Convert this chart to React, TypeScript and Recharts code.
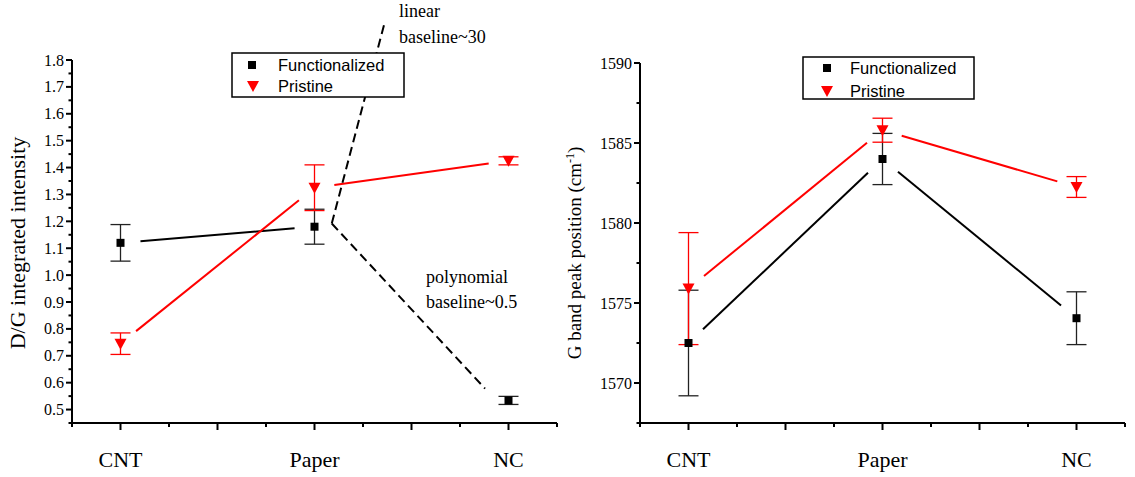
import React from 'react';
import { ComposedChart, Scatter, XAxis, YAxis, ErrorBar, ReferenceLine } from 'recharts';

// ---------- data ----------
const categories = ['CNT', 'Paper', 'NC'];
const categoryX = [1, 2, 3];

const dgFunctionalized = [1.12, 1.18, 0.534];
const dgFunctionalizedErr = [0.068, 0.065, 0.015];
const dgPristine = [0.745, 1.325, 1.425];
const dgPristineErr = [0.04, 0.085, 0.015];

const gFunctionalized = [1572.5, 1584.0, 1574.05];
const gFunctionalizedErr = [3.3, 1.6, 1.65];
const gPristine = [1575.9, 1585.8, 1582.25];
const gPristineErr = [3.5, 0.75, 0.65];

const xMajorTicks = [1, 1.5, 2, 2.5, 3];
const xMinorTicks = [0.75, 1.25, 1.75, 2.25, 2.75, 3.25];
const leftYMajorTicks = [0.5, 0.6, 0.7, 0.8, 0.9, 1.0, 1.1, 1.2, 1.3, 1.4, 1.5, 1.6, 1.7, 1.8];
const leftYMinorTicks = [0.45, 0.55, 0.65, 0.75, 0.85, 0.95, 1.05, 1.15, 1.25, 1.35, 1.45, 1.55, 1.65, 1.75];
const rightYMajorTicks = [1570, 1575, 1580, 1585, 1590];
const rightYMinorTicks = [1567.5, 1572.5, 1577.5, 1582.5, 1587.5];

// annotation (dashed baseline guides) in left-panel data coordinates
const annotationVertex = { x: 2.089, y: 1.192 };
const annotationLinearEnd = { x: 2.363, y: 1.943 };
const annotationPolyEnd = { x: 2.879, y: 0.578 };

// ---------- layout ----------
const X_DOMAIN: [number, number] = [0.75, 3.25];
const LEFT_Y_DOMAIN: [number, number] = [0.45, 1.8];
const RIGHT_Y_DOMAIN: [number, number] = [1567.5, 1590];
const PLOT_W = 485;
const LEFT_PLOT_H = 363;
const RIGHT_PLOT_H = 360;
const GAP = 20;

const SERIF = '"Liberation Serif", "Times New Roman", serif';
const SANS = '"Liberation Sans", Arial, sans-serif';

const toPoints = (ys: number[], errs: number[]) =>
  categoryX.map((x, i) => ({ x, y: ys[i], err: errs[i] }));

function gappedSegments(ys: number[], yDomain: [number, number], plotH: number) {
  const pxX = PLOT_W / (X_DOMAIN[1] - X_DOMAIN[0]);
  const pxY = plotH / (yDomain[1] - yDomain[0]);
  const segs: { x: number; y: number }[][] = [];
  for (let i = 0; i < categoryX.length - 1; i++) {
    const x1 = categoryX[i], x2 = categoryX[i + 1];
    const y1 = ys[i], y2 = ys[i + 1];
    const len = Math.hypot((x2 - x1) * pxX, (y2 - y1) * pxY);
    const t = GAP / len;
    segs.push([
      { x: x1 + t * (x2 - x1), y: y1 + t * (y2 - y1) },
      { x: x2 - t * (x2 - x1), y: y2 - t * (y2 - y1) },
    ]);
  }
  return segs;
}

const SquareShape = (props: any) => (
  <rect x={props.cx - 4} y={props.cy - 4} width={8} height={8} fill="#000" />
);
const TriangleShape = (props: any) => (
  <polygon
    points={`${props.cx - 6},${props.cy - 5} ${props.cx + 6},${props.cy - 5} ${props.cx},${props.cy + 6}`}
    fill="#ff0000"
  />
);

const XTick = (props: any) => {
  const { x, y, payload } = props;
  const v = payload.value;
  const major = xMajorTicks.some((t) => Math.abs(t - v) < 1e-6);
  const idx = categoryX.findIndex((c) => Math.abs(c - v) < 1e-6);
  return (
    <g>
      <line x1={x} x2={x} y1={y} y2={y + (major ? 7 : 4)} stroke="#000" strokeWidth={2} />
      {idx >= 0 && (
        <text
          x={x}
          y={y + 44}
          textAnchor="middle"
          fill="#000"
          style={{ fontFamily: SERIF, fontSize: 22 }}
        >
          {categories[idx]}
        </text>
      )}
    </g>
  );
};

const makeYTick = (majors: number[], fmt: (v: number) => string, fontSize: number) => (props: any) => {
  const { x, y, payload } = props;
  const v = payload.value;
  const major = majors.some((t) => Math.abs(t - v) < 1e-6);
  return (
    <g>
      <line x1={x} x2={x - (major ? 6 : 3.5)} y1={y} y2={y} stroke="#000" strokeWidth={2} />
      {major && (
        <text
          x={x - 8}
          y={y}
          dy="0.35em"
          textAnchor="end"
          fill="#000"
          style={{ fontFamily: SERIF, fontSize }}
        >
          {fmt(v)}
        </text>
      )}
    </g>
  );
};

const LeftYTick = makeYTick(leftYMajorTicks, (v) => v.toFixed(1), 16);
const RightYTick = makeYTick(rightYMajorTicks, (v) => String(v), 16);

const xTicks = [...xMinorTicks, ...xMajorTicks].sort((a, b) => a - b);
const leftYTicks = [...leftYMinorTicks, ...leftYMajorTicks].sort((a, b) => a - b);
const rightYTicks = [...rightYMinorTicks, ...rightYMajorTicks].sort((a, b) => a - b);

function Panel(props: {
  width: number;
  margin: any;
  yDomain: [number, number];
  yTicks: number[];
  YTick: any;
  func: number[];
  funcErr: number[];
  funcSegCount: number;
  prist: number[];
  pristErr: number[];
  plotH: number;
  children?: React.ReactNode;
}) {
  const funcSegs = gappedSegments(props.func, props.yDomain, props.plotH).slice(0, props.funcSegCount);
  const pristSegs = gappedSegments(props.prist, props.yDomain, props.plotH);
  const YT = props.YTick;
  return (
    <ComposedChart width={props.width} height={477} margin={props.margin}>
      <XAxis
        type="number"
        dataKey="x"
        domain={X_DOMAIN}
        ticks={xTicks}
        interval={0}
        height={30}
        tickSize={0}
        tickMargin={0}
        tickLine={false}
        tick={<XTick />}
        axisLine={{ stroke: '#000', strokeWidth: 2 }}
        allowDataOverflow
      />
      <YAxis
        type="number"
        dataKey="y"
        domain={props.yDomain}
        ticks={props.yTicks}
        interval={0}
        width={40}
        tickSize={0}
        tickMargin={0}
        tickLine={false}
        tick={<YT />}
        axisLine={{ stroke: '#000', strokeWidth: 2 }}
        allowDataOverflow
      />
      {funcSegs.map((s, i) => (
        <ReferenceLine key={'f' + i} segment={s} stroke="#000" strokeWidth={2} ifOverflow="visible" />
      ))}
      {pristSegs.map((s, i) => (
        <ReferenceLine key={'p' + i} segment={s} stroke="#ff0000" strokeWidth={2} ifOverflow="visible" />
      ))}
      {props.children}
      <Scatter
        data={toPoints(props.func, props.funcErr)}
        dataKey="y"
        shape={SquareShape}
        isAnimationActive={false}
      >
        <ErrorBar dataKey="err" direction="y" width={10} stroke="#222" strokeWidth={1.3} isAnimationActive={false} />
      </Scatter>
      <Scatter
        data={toPoints(props.prist, props.pristErr)}
        dataKey="y"
        shape={TriangleShape}
        isAnimationActive={false}
      >
        <ErrorBar dataKey="err" direction="y" width={10} stroke="#ff0000" strokeWidth={1.3} isAnimationActive={false} />
      </Scatter>
    </ComposedChart>
  );
}

export default function App() {
  return (
    <div style={{ position: 'absolute', left: 0, top: 0, width: 1135, height: 477, background: '#fff' }}>
      <div style={{ position: 'absolute', left: 0, top: 0 }}>
        <Panel
          width={600}
          margin={{ top: 60, right: 43, bottom: 24, left: 32 }}
          yDomain={LEFT_Y_DOMAIN}
          yTicks={leftYTicks}
          YTick={LeftYTick}
          func={dgFunctionalized}
          funcErr={dgFunctionalizedErr}
          funcSegCount={1}
          prist={dgPristine}
          pristErr={dgPristineErr}
          plotH={LEFT_PLOT_H}
        >
          <ReferenceLine
            segment={[annotationVertex, annotationLinearEnd]}
            stroke="#000"
            strokeWidth={2}
            strokeDasharray="9 5"
            ifOverflow="visible"
          />
          <ReferenceLine
            segment={[annotationVertex, annotationPolyEnd]}
            stroke="#000"
            strokeWidth={2}
            strokeDasharray="9 5"
            ifOverflow="visible"
          />
        </Panel>
      </div>
      <div style={{ position: 'absolute', left: 560, top: 0 }}>
        <Panel
          width={575}
          margin={{ top: 63, right: 10, bottom: 24, left: 40 }}
          yDomain={RIGHT_Y_DOMAIN}
          yTicks={rightYTicks}
          YTick={RightYTick}
          func={gFunctionalized}
          funcErr={gFunctionalizedErr}
          funcSegCount={2}
          prist={gPristine}
          pristErr={gPristineErr}
          plotH={RIGHT_PLOT_H}
        />
      </div>
      <svg
        width={1135}
        height={477}
        style={{ position: 'absolute', left: 0, top: 0, pointerEvents: 'none' }}
      >
        {/* axis titles */}
        <text
          transform="translate(25,243) rotate(-90)"
          textAnchor="middle"
          fill="#000"
          style={{ fontFamily: SERIF, fontSize: 22 }}
        >
          D/G integrated intensity
        </text>
        <text
          transform="translate(581,253) rotate(-90)"
          textAnchor="middle"
          fill="#000"
          style={{ fontFamily: SERIF, fontSize: 19 }}
        >
          <tspan>G band peak position (cm</tspan>
          <tspan dy={-7} style={{ fontSize: 12 }}>-1</tspan>
          <tspan dy={7}>)</tspan>
        </text>

        {/* annotations */}
        <text x={399} y={17} fill="#000" style={{ fontFamily: SERIF, fontSize: 18 }}>linear</text>
        <text x={399} y={43} fill="#000" style={{ fontFamily: SERIF, fontSize: 18 }}>baseline~30</text>
        <text x={426} y={283} fill="#000" style={{ fontFamily: SERIF, fontSize: 18 }}>polynomial</text>
        <text x={426} y={308} fill="#000" style={{ fontFamily: SERIF, fontSize: 18 }}>baseline~0.5</text>

        {/* left legend */}
        <rect x={232} y={53} width={172} height={44} fill="#fff" stroke="#000" strokeWidth={1.5} />
        <rect x={248} y={61} width={8} height={8} fill="#000" />
        <polygon points="247,81 259,81 253,92" fill="#ff0000" />
        <text x={278} y={71} fill="#000" style={{ fontFamily: SANS, fontSize: 16.5 }}>Functionalized</text>
        <text x={278} y={92} fill="#000" style={{ fontFamily: SANS, fontSize: 16.5 }}>Pristine</text>

        {/* right legend */}
        <rect x={803} y={57} width={171} height={42} fill="#fff" stroke="#000" strokeWidth={1.5} />
        <rect x={823} y={64} width={8} height={8} fill="#000" />
        <polygon points="821,86 833,86 827,97" fill="#ff0000" />
        <text x={850} y={74} fill="#000" style={{ fontFamily: SANS, fontSize: 16.5 }}>Functionalized</text>
        <text x={850} y={97} fill="#000" style={{ fontFamily: SANS, fontSize: 16.5 }}>Pristine</text>
      </svg>
    </div>
  );
}
